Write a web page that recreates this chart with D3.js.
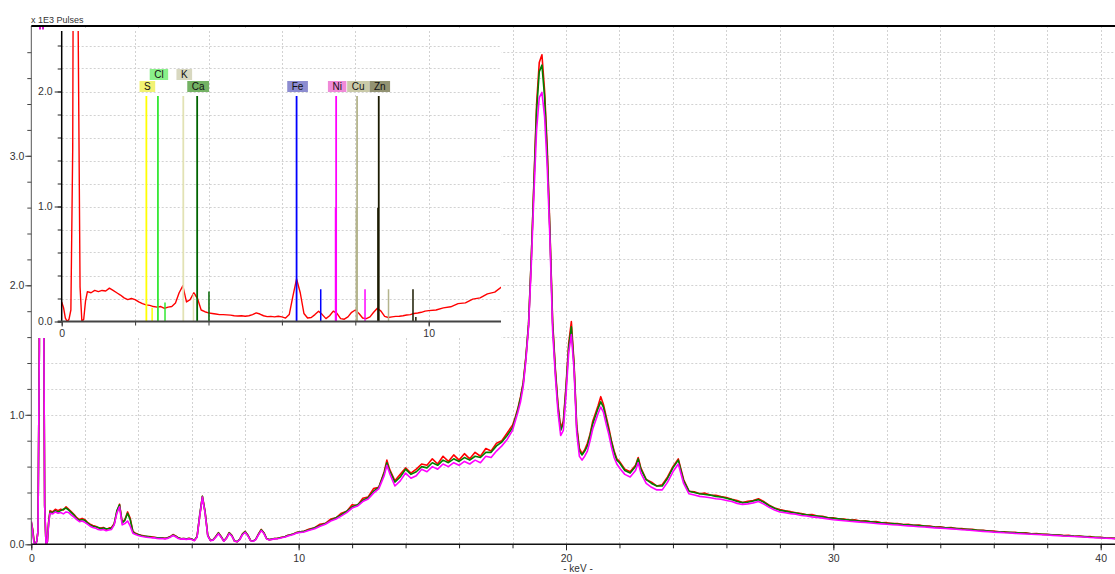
<!DOCTYPE html>
<html><head><meta charset="utf-8">
<script src="https://cdn.jsdelivr.net/npm/d3@7"></script>
<style>
html,body{margin:0;padding:0;background:#fff;}
svg{display:block;font-family:"Liberation Sans",Arial,sans-serif;}
</style></head><body>
<svg id="chart" width="1115" height="574"></svg>
<script>
// ---------------- DATA ----------------
const energy = [
 0,0.05,0.1,0.15,0.2,0.25,0.3,0.35,0.4,0.45,0.5,0.55,0.6,0.65,0.7,0.8,0.9,
 1.0,1.1,1.2,1.3,1.4,1.5,1.6,1.7,1.8,1.9,
 2.0,2.1,2.2,2.3,2.4,2.5,2.6,2.7,2.8,2.9,
 3.0,3.1,3.2,3.3,3.4,3.5,3.6,3.7,3.8,3.9,
 4.0,4.1,4.2,4.3,4.4,4.5,4.6,4.7,4.8,4.9,
 5.0,5.1,5.2,5.3,5.4,5.5,5.6,5.7,5.8,5.9,
 6.0,6.1,6.2,6.3,6.4,6.5,6.6,6.7,6.8,6.9,
 7.0,7.1,7.2,7.3,7.4,7.5,7.6,7.7,7.8,7.9,
 8.0,8.1,8.2,8.3,8.4,8.5,8.6,8.7,8.8,8.9,
 9.0,9.1,9.2,9.3,9.4,9.5,9.6,9.7,9.8,9.9,
 10.0,
 10.2,10.4,10.6,10.8,11.0,11.2,11.4,11.6,11.8,12.0,
 12.2,12.4,12.6,12.8,13.0,13.2,13.3,13.4,13.6,13.8,
 14.0,14.2,14.4,14.6,14.8,15.0,15.2,15.4,15.6,15.8,
 16.0,16.2,16.4,16.6,16.8,17.0,17.2,17.4,17.6,17.8,
 18.0,
 18.1,18.2,18.3,18.4,18.5,18.6,18.7,18.8,18.9,19.0,
 19.1,19.2,19.3,19.4,19.5,19.6,19.7,19.8,19.9,20.0,
 20.1,20.2,20.3,20.4,20.5,20.6,20.7,20.8,20.9,21.0,
 21.1,21.2,21.3,21.4,21.5,21.6,21.7,21.8,21.9,22.0,
 22.2,22.4,22.6,22.7,22.8,
 23.0,23.2,23.4,23.6,23.8, 24.0,24.2,24.4,24.6,24.8,
 25.0,25.2,25.4,25.6,25.8, 26.0,26.2,26.4,26.6,26.8,
 27.0,27.2,27.4,27.6,27.8, 28.0,28.2,28.4,28.6,28.8,
 29.0,29.2,29.4,29.6,29.8, 30.0,30.2,30.4,30.6,30.8,
 31.0,31.2,31.4,31.6,31.8, 32.0,32.2,32.4,32.6,32.8,
 33.0,33.2,33.4,33.6,33.8, 34.0,34.2,34.4,34.6,34.8,
 35.0,35.2,35.4,35.6,35.8, 36.0,36.2,36.4,36.6,36.8,
 37.0,37.2,37.4,37.6,37.8, 38.0,38.2,38.4,38.6,38.8,
 39.0,39.2,39.4,39.6,39.8, 40.0,40.2,40.4,40.6
];

// kilo-pulses, spectrum 1 (red)
const pulsesRed = [
 0.17,0.12,0.03,0,0.02,0.1,1.5,7,8,2.5,0.3,0,0.02,0.18,0.26,0.25,0.27,
 0.26,0.27,0.265,0.29,0.27,0.25,0.23,0.205,0.19,0.2,
 0.19,0.17,0.155,0.145,0.14,0.13,0.125,0.13,0.115,0.125,
 0.13,0.16,0.25,0.31,0.17,0.19,0.25,0.2,0.1,0.085,
 0.075,0.07,0.065,0.06,0.06,0.058,0.055,0.05,0.048,0.05,
 0.046,0.05,0.06,0.075,0.065,0.05,0.042,0.045,0.04,0.046,
 0.04,0.03,0.06,0.22,0.37,0.25,0.07,0.03,0.035,0.06,
 0.09,0.06,0.025,0.05,0.09,0.07,0.025,0.02,0.04,0.08,
 0.1,0.07,0.03,0.025,0.04,0.08,0.115,0.09,0.045,0.035,
 0.04,0.045,0.046,0.05,0.056,0.06,0.07,0.074,0.08,0.09,
 0.095,
 0.1,0.118,0.128,0.155,0.162,0.195,0.205,0.24,0.255,0.305,
 0.3,0.355,0.365,0.43,0.44,0.56,0.65,0.58,0.49,0.54,
 0.59,0.55,0.58,0.62,0.61,0.66,0.62,0.68,0.64,0.69,
 0.65,0.7,0.66,0.71,0.68,0.74,0.72,0.78,0.8,0.86,
 0.92,
 0.98,1.05,1.14,1.25,1.45,1.7,2.2,2.8,3.4,3.72,
 3.78,3.5,3.05,2.42,1.72,1.36,1.08,0.9,0.95,1.22,
 1.55,1.72,1.4,0.92,0.74,0.7,0.73,0.78,0.85,0.95,
 1.01,1.07,1.14,1.08,0.99,0.9,0.8,0.72,0.66,0.64,
 0.58,0.56,0.61,0.67,0.59,
 0.5,0.48,0.45,0.46,0.52, 0.6,0.66,0.5,0.41,0.405,
 0.39,0.395,0.38,0.378,0.368, 0.362,0.348,0.338,0.322,0.332,
 0.338,0.352,0.33,0.302,0.28, 0.268,0.258,0.252,0.243,0.238,
 0.228,0.229,0.218,0.216,0.205, 0.204,0.196,0.195,0.187,0.189,
 0.18,0.182,0.174,0.175,0.166, 0.167,0.16,0.161,0.153,0.154,
 0.147,0.148,0.141,0.141,0.134, 0.135,0.128,0.129,0.121,0.122,
 0.115,0.116,0.108,0.109,0.102, 0.102,0.096,0.097,0.091,0.092,
 0.086,0.088,0.081,0.083,0.077, 0.078,0.072,0.074,0.067,0.069,
 0.062,0.064,0.058,0.059,0.053, 0.054,0.048,0.049,0.044
];

// spectrum 2 (green)
const pulsesGreen = [
 0.17,0.11,0.02,0,0.02,0.1,1.5,7,8,2.5,0.3,0,0.02,0.17,0.25,0.245,0.26,
 0.25,0.26,0.27,0.28,0.265,0.245,0.225,0.2,0.185,0.19,
 0.185,0.165,0.15,0.14,0.135,0.13,0.12,0.125,0.12,0.12,
 0.125,0.155,0.26,0.305,0.165,0.185,0.24,0.19,0.095,0.08,
 0.075,0.068,0.062,0.062,0.058,0.055,0.053,0.05,0.05,0.048,
 0.045,0.05,0.058,0.072,0.062,0.05,0.043,0.044,0.042,0.044,
 0.04,0.032,0.058,0.23,0.37,0.25,0.068,0.03,0.035,0.058,
 0.088,0.058,0.026,0.048,0.088,0.068,0.026,0.021,0.04,0.078,
 0.098,0.07,0.03,0.025,0.04,0.078,0.112,0.088,0.045,0.036,
 0.04,0.044,0.045,0.05,0.054,0.06,0.068,0.073,0.08,0.088,
 0.094,
 0.1,0.112,0.128,0.145,0.16,0.185,0.205,0.228,0.255,0.29,
 0.305,0.34,0.36,0.41,0.44,0.55,0.63,0.57,0.48,0.52,
 0.58,0.54,0.56,0.6,0.59,0.63,0.61,0.65,0.63,0.66,
 0.64,0.67,0.65,0.68,0.67,0.71,0.71,0.76,0.79,0.84,
 0.9,
 0.97,1.04,1.13,1.24,1.44,1.7,2.2,2.78,3.35,3.65,
 3.7,3.45,3.0,2.4,1.7,1.34,1.06,0.88,0.93,1.2,
 1.52,1.68,1.38,0.9,0.72,0.69,0.72,0.76,0.84,0.93,
 0.99,1.05,1.1,1.06,0.97,0.88,0.79,0.71,0.65,0.63,
 0.57,0.55,0.6,0.66,0.58,
 0.5,0.47,0.45,0.45,0.51, 0.59,0.65,0.49,0.41,0.4,
 0.39,0.385,0.38,0.37,0.365, 0.355,0.345,0.33,0.322,0.325,
 0.335,0.345,0.325,0.298,0.278, 0.262,0.256,0.248,0.242,0.234,
 0.228,0.222,0.218,0.212,0.205, 0.2,0.196,0.191,0.188,0.184,
 0.18,0.177,0.174,0.17,0.167, 0.163,0.16,0.157,0.153,0.15,
 0.147,0.144,0.141,0.138,0.134, 0.131,0.128,0.125,0.122,0.118,
 0.115,0.112,0.109,0.106,0.103, 0.099,0.097,0.094,0.092,0.089,
 0.087,0.085,0.082,0.08,0.078, 0.076,0.073,0.071,0.068,0.066,
 0.063,0.061,0.059,0.056,0.054, 0.052,0.049,0.047,0.045
];

// spectrum 3 (magenta)
const pulsesMagenta = [
 0.18,0.1,0.01,0,0.02,0.1,1.5,7,8,2.5,0.3,0,0.02,0.16,0.24,0.235,0.25,
 0.24,0.245,0.235,0.25,0.245,0.225,0.21,0.19,0.175,0.18,
 0.17,0.155,0.14,0.13,0.125,0.115,0.11,0.115,0.105,0.11,
 0.115,0.15,0.24,0.29,0.15,0.16,0.18,0.14,0.085,0.075,
 0.068,0.062,0.058,0.055,0.052,0.05,0.05,0.045,0.044,0.045,
 0.042,0.046,0.055,0.068,0.058,0.045,0.04,0.042,0.038,0.042,
 0.037,0.028,0.055,0.22,0.365,0.24,0.065,0.028,0.032,0.055,
 0.082,0.055,0.024,0.046,0.083,0.064,0.024,0.02,0.037,0.074,
 0.093,0.065,0.028,0.023,0.037,0.074,0.106,0.083,0.042,0.033,
 0.038,0.042,0.043,0.047,0.052,0.057,0.065,0.07,0.076,0.085,
 0.09,
 0.095,0.108,0.12,0.14,0.155,0.18,0.195,0.22,0.245,0.28,
 0.295,0.33,0.35,0.395,0.43,0.53,0.61,0.55,0.45,0.49,
 0.55,0.51,0.53,0.58,0.56,0.6,0.58,0.62,0.6,0.63,
 0.61,0.64,0.62,0.65,0.63,0.68,0.67,0.72,0.76,0.81,
 0.88,
 0.95,1.02,1.1,1.22,1.42,1.68,2.15,2.7,3.2,3.45,
 3.49,3.3,2.9,2.35,1.65,1.3,1.02,0.84,0.88,1.15,
 1.48,1.62,1.35,0.86,0.68,0.65,0.68,0.72,0.8,0.89,
 0.95,1.01,1.06,1.02,0.93,0.85,0.75,0.67,0.62,0.59,
 0.54,0.52,0.57,0.63,0.55,
 0.47,0.44,0.42,0.42,0.48, 0.56,0.62,0.47,0.39,0.38,
 0.37,0.365,0.36,0.352,0.348, 0.338,0.33,0.316,0.308,0.312,
 0.32,0.33,0.31,0.285,0.265, 0.25,0.244,0.237,0.232,0.222,
 0.218,0.212,0.208,0.202,0.196, 0.19,0.186,0.182,0.178,0.175,
 0.171,0.168,0.165,0.161,0.158, 0.155,0.151,0.149,0.145,0.142,
 0.139,0.136,0.134,0.131,0.127, 0.125,0.122,0.119,0.116,0.112,
 0.11,0.106,0.103,0.1,0.097, 0.094,0.092,0.089,0.087,0.084,
 0.082,0.08,0.078,0.076,0.074, 0.072,0.069,0.067,0.064,0.062,
 0.06,0.058,0.056,0.053,0.051, 0.049,0.047,0.045,0.043
];

// element markers (inset): element, line energy (keV), marker height (kilo-pulses)
const elementNames = ["S","Cl","K","Ca","Fe","Ni","Cu","Zn"];
const markerElement = ["S","S","Cl","Cl","K","K","Ca","Ca","Fe","Fe","Ni","Ni","Ni","Cu","Cu","Cu","Zn","Zn","Zn","Zn"];
const markerEnergy  = [2.307,2.464,2.622,2.815,3.313,3.590,3.691,4.013,6.400,7.058,7.478,7.461,8.265,8.048,8.028,8.905,8.639,8.616,9.572,9.650];
const markerHeight  = [1.96,0.12,1.96,0.165,1.96,0.24,1.96,0.26,1.96,0.28,1.96,0.99,0.28,1.96,0.99,0.28,1.96,0.99,0.28,0.04];
const labelEnergy   = [2.307,2.622,3.313,3.691,6.400,7.478,8.048,8.639];

// axis tick labels
const xTickLabels = [0,10,20,30,40];
const yTickLabels = [0,1,2,3];
const insetXTickLabels = [0,10];
const insetYTickLabels = [0,1,2];

// ---------------- STYLE / LAYOUT ----------------
const seriesColors = {red:"#ff0000", green:"#008000", magenta:"#ff00ff"};
const elementLineColor = {S:"#ffff00",Cl:"#33e833",K:"#e2e2b4",Ca:"#006400",Fe:"#0000ff",Ni:"#ff00ff",Cu:"#b4b48c",Zn:"#1a1a00"};
const elementBoxColor  = {S:"#f2f272",Cl:"#8af08a",K:"#d8d8c0",Ca:"#74b264",Fe:"#8c8cd0",Ni:"#f08ad8",Cu:"#cacaa8",Zn:"#929272"};
const labelRow = {S:0,Cl:1,K:1,Ca:0,Fe:0,Ni:0,Cu:0,Zn:0};
const FONT = '"Liberation Sans", Arial, sans-serif';

const svg = d3.select("#chart");
const defs = svg.append("defs");

// ---------------- MAIN CHART ----------------
const P = {left:31.3, right:1115, top:26, bottom:544.3};
const x = d3.scaleLinear().domain([0,40]).range([31.3,1100.7]);
const y = d3.scaleLinear().domain([0,4]).range([544.3,26.3]);

defs.append("clipPath").attr("id","clipMain").append("rect")
  .attr("x",P.left).attr("y",P.top).attr("width",P.right-P.left).attr("height",P.bottom-P.top);

const grid = svg.append("g").attr("stroke","#d2d2d2").attr("stroke-width",1).attr("stroke-dasharray","2,2");
grid.selectAll("line.h").data(d3.range(1,20).map(i=>+(i*0.2).toFixed(1))).join("line").attr("class","h")
  .attr("x1",P.left).attr("x2",P.right)
  .attr("y1",d=>Math.round(y(d))+0.5).attr("y2",d=>Math.round(y(d))+0.5);
grid.selectAll("line.v").data(d3.range(2,41,2)).join("line").attr("class","v")
  .attr("x1",d=>Math.round(x(d))+0.5).attr("x2",d=>Math.round(x(d))+0.5)
  .attr("y1",P.top).attr("y2",P.bottom);

const line = d3.line().x((d,i)=>x(energy[i])).y(d=>y(d));
const gSeries = svg.append("g").attr("clip-path","url(#clipMain)");
[["red",pulsesRed],["green",pulsesGreen],["magenta",pulsesMagenta]].forEach(([k,vals])=>{
  gSeries.append("path").datum(vals).attr("d",line)
    .attr("fill","none").attr("stroke",seriesColors[k]).attr("stroke-width",1.6)
    .attr("stroke-linejoin","round");
});

// axes
function styleAxis(g){
  g.select(".domain").remove();
  g.selectAll("text").attr("font-family",FONT).attr("font-size","10.5px").attr("fill","#333");
}
svg.append("g").attr("transform",`translate(0,${P.bottom})`)
  .call(d3.axisBottom(x).tickValues(d3.range(0,41,2)).tickSize(4).tickFormat(""))
  .call(styleAxis).selectAll("line").attr("stroke","#222");
svg.append("g").attr("transform",`translate(0,${P.bottom})`)
  .call(d3.axisBottom(x).tickValues(xTickLabels).tickSize(6).tickPadding(4).tickFormat(d3.format("d")))
  .call(styleAxis).selectAll("line").attr("stroke","#222");
svg.append("g").attr("transform",`translate(${P.left},0)`)
  .call(d3.axisLeft(y).tickValues(d3.range(0,20).map(i=>+(i*0.2).toFixed(1))).tickSize(4).tickFormat(""))
  .call(styleAxis).selectAll("line").attr("stroke","#444");
svg.append("g").attr("transform",`translate(${P.left},0)`)
  .call(d3.axisLeft(y).tickValues(yTickLabels).tickSize(6).tickPadding(1).tickFormat(d3.format(".1f")))
  .call(styleAxis).selectAll("line").attr("stroke","#444");

svg.append("line").attr("x1",P.left).attr("x2",P.left).attr("y1",P.top).attr("y2",P.bottom)
  .attr("stroke","#555").attr("stroke-width",1);
svg.append("line").attr("x1",P.left).attr("x2",P.right).attr("y1",P.bottom).attr("y2",P.bottom)
  .attr("stroke","#111").attr("stroke-width",1.5);
svg.append("line").attr("x1",P.left).attr("x2",P.right).attr("y1",26).attr("y2",26)
  .attr("stroke","#000").attr("stroke-width",2);

svg.append("text").attr("x",31).attr("y",22.5).attr("font-family",FONT).attr("font-size","9px")
  .attr("fill","#333").text("x 1E3 Pulses");
svg.append("text").attr("x",578).attr("y",571.5).attr("text-anchor","middle").attr("font-family",FONT)
  .attr("font-size","10px").attr("fill","#333").text("- keV -");

// ---------------- INSET ----------------
const I = {left:61.7, right:501, top:31, bottom:321.5};
const ix = d3.scaleLinear().domain([0,10]).range([61.7,428.7]);
const iy = d3.scaleLinear().domain([0,2]).range([321.5,91.5]);

const inset = svg.append("g");
inset.append("rect").attr("x",32).attr("y",29.5).attr("width",469).attr("height",308.5).attr("fill","#fff");
defs.append("clipPath").attr("id","clipInset").append("rect")
  .attr("x",I.left).attr("y",I.top).attr("width",I.right-I.left).attr("height",I.bottom-I.top);

const igrid = inset.append("g").attr("stroke","#d2d2d2").attr("stroke-width",1).attr("stroke-dasharray","2,2");
igrid.selectAll("line.h").data(d3.range(1,13).map(i=>+(i*0.2).toFixed(1))).join("line").attr("class","h")
  .attr("x1",I.left).attr("x2",I.right)
  .attr("y1",d=>Math.round(iy(d))+0.5).attr("y2",d=>Math.round(iy(d))+0.5);
igrid.selectAll("line.v").data(d3.range(2,11,2)).join("line").attr("class","v")
  .attr("x1",d=>Math.round(ix(d))+0.5).attr("x2",d=>Math.round(ix(d))+0.5)
  .attr("y1",I.top).attr("y2",I.bottom);

const iline = d3.line().x((d,i)=>ix(energy[i])).y(d=>iy(d));
const gInsetData = inset.append("g").attr("clip-path","url(#clipInset)");
gInsetData.append("path").datum(pulsesRed).attr("d",iline)
  .attr("fill","none").attr("stroke",seriesColors.red).attr("stroke-width",1.4).attr("stroke-linejoin","round");

// element marker lines
const markers = markerEnergy.map((e,i)=>({el:markerElement[i], e, h:markerHeight[i]}));
gInsetData.selectAll("line.mk").data(markers).join("line").attr("class","mk")
  .attr("x1",d=>ix(d.e)).attr("x2",d=>ix(d.e))
  .attr("y1",iy(0)).attr("y2",d=>iy(d.h))
  .attr("stroke",d=>elementLineColor[d.el]).attr("stroke-width",d=>d.h>1.5?1.8:1.5);

// element labels
const labs = inset.append("g");
elementNames.forEach((el,i)=>{
  const cx = ix(labelEnergy[i]) + 1;
  const row = labelRow[el];
  const top = row===0 ? 81 : 69;
  const g = labs.append("g");
  const t = g.append("text").attr("x",cx).attr("y",top+9).attr("text-anchor","middle")
    .attr("font-family",FONT).attr("font-size","10px").attr("fill","#111").text(el);
  const w = t.node().getComputedTextLength();
  g.insert("rect","text").attr("x",cx-w/2-4.5).attr("y",top).attr("width",w+9).attr("height",11)
    .attr("fill",elementBoxColor[el]);
});

// inset axes
inset.append("g").attr("transform",`translate(0,${I.bottom})`)
  .call(d3.axisBottom(ix).tickValues(d3.range(0,11,2)).tickSize(4).tickFormat(""))
  .call(styleAxis).selectAll("line").attr("stroke","#333");
inset.append("g").attr("transform",`translate(0,${I.bottom})`)
  .call(d3.axisBottom(ix).tickValues(insetXTickLabels).tickSize(5).tickPadding(3).tickFormat(d3.format("d")))
  .call(styleAxis).selectAll("line").attr("stroke","#333");
inset.append("g").attr("transform",`translate(${I.left},0)`)
  .call(d3.axisLeft(iy).tickValues(d3.range(0,13).map(i=>+(i*0.2).toFixed(1))).tickSize(4).tickFormat(""))
  .call(styleAxis).selectAll("line").attr("stroke","#222");
inset.append("g").attr("transform",`translate(${I.left},0)`)
  .call(d3.axisLeft(iy).tickValues(insetYTickLabels).tickSize(7).tickPadding(2).tickFormat(d3.format(".1f")))
  .call(styleAxis).selectAll("line").attr("stroke","#222");
inset.append("line").attr("x1",I.left).attr("x2",I.left).attr("y1",I.top).attr("y2",I.bottom)
  .attr("stroke","#000").attr("stroke-width",1.5);
inset.append("line").attr("x1",I.left-4).attr("x2",I.right).attr("y1",I.bottom).attr("y2",I.bottom)
  .attr("stroke","#444").attr("stroke-width",2);
</script>
</body></html>
